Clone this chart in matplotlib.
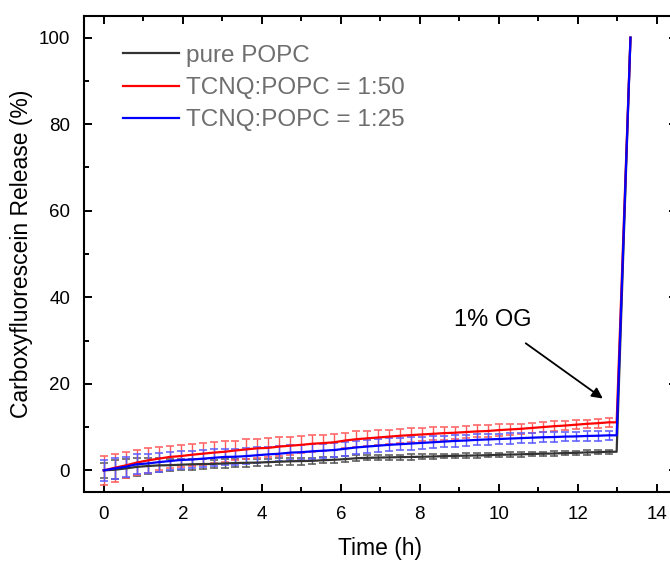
import numpy as np
import matplotlib
matplotlib.use("Agg")
import matplotlib.pyplot as plt
from matplotlib.ticker import MultipleLocator

plt.rcParams["font.family"] = ["Liberation Sans", "DejaVu Sans"]

# sampling every 1000 s, in hours
time_h = [k * 1000 / 3600 for k in range(47)]
# after the last reading: detergent added, full release
t_og = [12.98, 13.33]

popc = [0, 0.15, 0.45, 0.8, 1.0, 1.15, 1.2, 1.3, 1.4, 1.45, 1.5, 1.6, 1.7, 1.75, 1.8, 1.9,
        2.0, 2.1, 2.15, 2.2, 2.35, 2.45, 2.6, 2.8, 2.9, 2.95, 3.0, 3.05, 3.1, 3.15, 3.2, 3.3,
        3.35, 3.4, 3.45, 3.5, 3.6, 3.65, 3.7, 3.8, 3.85, 3.9, 4.0, 4.05, 4.15, 4.2, 4.3]
popc_err = [1.8, 2.2, 2.2, 2.0, 1.8, 1.6, 1.4, 1.3, 1.2, 1.1, 1.0, 1.0, 0.9, 0.9, 0.9, 0.8,
            0.8, 0.8, 0.8, 0.7, 0.7, 0.7, 0.7, 0.7, 0.6, 0.6, 0.6, 0.6, 0.6, 0.6, 0.6, 0.5,
            0.5, 0.5, 0.5, 0.5, 0.5, 0.5, 0.5, 0.5, 0.5, 0.5, 0.5, 0.5, 0.5, 0.5, 0.5]

tcnq50 = [0, 0.6, 1.15, 1.8, 2.3, 2.7, 3.1, 3.3, 3.6, 3.85, 4.1, 4.3, 4.6, 4.85, 5.1, 5.2,
          5.5, 5.7, 5.9, 6.15, 6.3, 6.5, 6.9, 7.2, 7.4, 7.6, 7.8, 8.0, 8.15, 8.3, 8.45, 8.6,
          8.7, 8.85, 9.0, 9.1, 9.3, 9.45, 9.6, 9.8, 10.0, 10.2, 10.35, 10.55, 10.75, 10.9, 11.1]
tcnq50_err = [3.3, 3.2, 3.0, 2.9, 2.8, 2.7, 2.6, 2.6, 2.5, 2.5, 2.4, 2.4, 2.3, 2.3, 2.2, 2.2,
              2.1, 2.1, 2.0, 2.0, 1.9, 1.9, 1.8, 1.8, 1.7, 1.7, 1.6, 1.6, 1.6, 1.5, 1.5, 1.5,
              1.4, 1.4, 1.4, 1.3, 1.3, 1.3, 1.2, 1.2, 1.2, 1.1, 1.1, 1.1, 1.0, 1.0, 1.0]

tcnq25 = [0, 0.45, 0.85, 1.4, 1.6, 1.9, 2.15, 2.4, 2.5, 2.7, 2.9, 3.1, 3.15, 3.3, 3.5, 3.7,
          3.85, 4.1, 4.2, 4.4, 4.55, 4.7, 5.0, 5.3, 5.5, 5.7, 5.9, 6.05, 6.2, 6.35, 6.5, 6.65,
          6.8, 6.9, 7.05, 7.15, 7.25, 7.35, 7.45, 7.55, 7.65, 7.7, 7.8, 7.85, 7.95, 8.0, 8.1]
tcnq25_err = [2.4, 2.4, 2.3, 2.3, 2.2, 2.2, 2.1, 2.1, 2.0, 2.0, 2.0, 1.9, 1.9, 1.9, 1.8, 1.8,
              1.8, 1.7, 1.7, 1.7, 1.6, 1.6, 1.6, 1.5, 1.5, 1.5, 1.5, 1.4, 1.4, 1.4, 1.4, 1.3,
              1.3, 1.3, 1.3, 1.3, 1.2, 1.2, 1.2, 1.2, 1.2, 1.1, 1.1, 1.1, 1.1, 1.1, 1.1]

series = [
    ("pure POPC", popc, popc_err, "#333333", "#555555"),
    ("TCNQ:POPC = 1:50", tcnq50, tcnq50_err, "#ff0000", "#ff5a5a"),
    ("TCNQ:POPC = 1:25", tcnq25, tcnq25_err, "#0000ff", "#5a5aff"),
]

fig = plt.figure(figsize=(6.7, 5.63), dpi=100)
ax = fig.add_axes([0.1254, 0.1261, 0.8846, 0.8455])

for label, vals, err, color, ecolor in series:
    ax.errorbar(time_h, vals, yerr=err, fmt="none", ecolor=ecolor,
                elinewidth=1.0, capsize=2.6, capthick=1.1, zorder=2)
for label, vals, err, color, ecolor in series:
    ax.plot(time_h + t_og, vals + [vals[-1], 100], color=color, lw=1.6,
            label=label, zorder=3)

ax.annotate("1% OG", xy=(12.63, 16.6), xytext=(9.85, 34.8),
            ha="center", va="center", fontsize=17,
            arrowprops=dict(arrowstyle="-|>", color="black", lw=1.3,
                            mutation_scale=16, shrinkA=12, shrinkB=0))

ax.set_xlim(-0.5, 14.5)
ax.set_ylim(-5, 105)
ax.xaxis.set_major_locator(MultipleLocator(2))
ax.xaxis.set_minor_locator(MultipleLocator(1))
ax.yaxis.set_major_locator(MultipleLocator(20))
ax.yaxis.set_minor_locator(MultipleLocator(10))
ax.tick_params(which="both", direction="in", top=True, right=True, width=1.4)
ax.tick_params(which="major", length=6, labelsize=13.5)
ax.tick_params(axis="x", which="major", pad=10)
ax.tick_params(axis="y", which="major", pad=10)
ax.tick_params(which="minor", length=3.5)
for sp in ax.spines.values():
    sp.set_linewidth(1.5)

ax.set_xlabel("Time (h)", fontsize=16.5, labelpad=10)
ax.set_ylabel("Carboxyfluorescein Release (%)", fontsize=16.5, labelpad=4)

leg = ax.legend(loc="upper left", bbox_to_anchor=(0.045, 0.965), frameon=False,
                fontsize=17.5, handlelength=2.3, handletextpad=0.3,
                labelspacing=0.42, borderpad=0)
for txt in leg.get_texts():
    txt.set_color("#6e6e6e")

fig.savefig("out.png", dpi=100)
